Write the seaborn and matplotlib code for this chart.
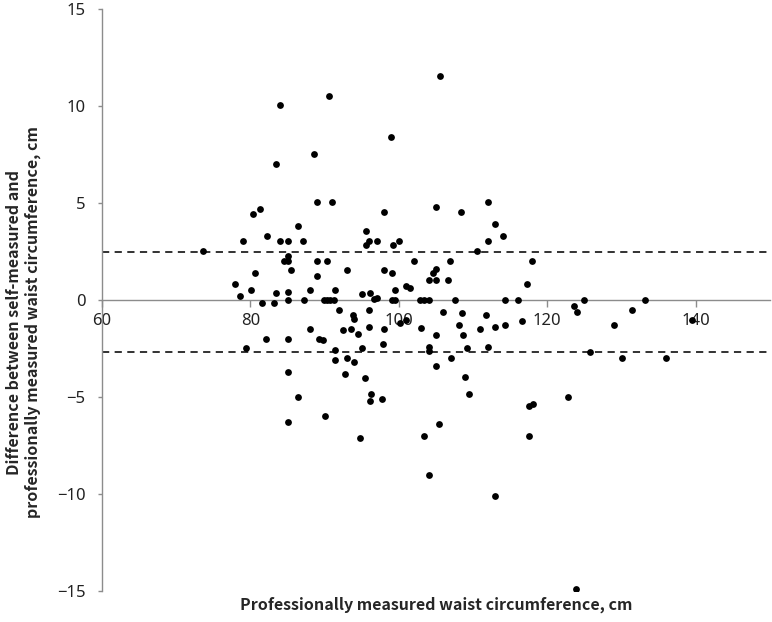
import matplotlib
matplotlib.use("Agg")
import matplotlib.pyplot as plt
import seaborn as sns
import pandas as pd

# professionally measured waist (cm) and difference self - professional (cm)
waist_upper = [73.6, 77.9, 78.6, 79.0, 80.05, 80.3, 80.6, 81.35, 82.2, 83.5,
               83.5, 84.0, 84.0, 84.5, 85.0, 85.0, 85.0, 85.1, 85.5, 86.4,
               87.1, 88.05, 88.5, 89.0, 89.0, 89.0, 90.3, 90.6, 91.0, 91.4,
               93.0, 95.0, 95.6, 95.6, 96.0, 96.1, 97.0, 98.0, 98.0, 99.0,
               99.05, 99.2, 99.5, 100.0, 101.0, 101.5, 102.0, 105.5, 105.05, 104.6,
               105.05, 104.1, 105.05, 106.6, 106.9, 108.4, 110.5, 112.0, 112.0, 113.0,
               114.0, 117.2, 118.0, 96.6, 97.05]
diff_upper = [2.53, 0.84, 0.22, 3.04, 0.52, 4.42, 1.39, 4.71, 3.30, 7.01,
              0.34, 10.04, 3.04, 2.03, 3.04, 2.27, 2.03, 0.40, 1.53, 3.80,
              3.04, 0.52, 7.51, 5.05, 2.03, 1.24, 2.03, 10.53, 5.05, 0.52,
              1.53, 0.29, 3.54, 2.82, 3.04, 0.34, 3.04, 4.55, 1.53, 8.42,
              1.39, 2.82, 0.52, 3.04, 0.72, 0.62, 2.03, 11.55, 4.81, 1.39,
              1.61, 1.01, 1.01, 1.01, 2.03, 4.54, 2.53, 5.05, 3.04, 3.93,
              3.30, 0.84, 2.03, 0.05, 0.12]

waist_zero = [85.1, 87.2, 89.9, 90.3, 90.75, 91.2, 99.07, 99.5, 102.9, 103.4,
              104.0, 107.6, 114.35, 116.06, 125.0, 133.1]
diff_zero = [0.0] * 16

waist_lower = [81.5, 83.2, 92.0, 93.8, 93.9, 96.0, 100.2, 101.0, 103.0, 105.05,
               105.9, 108.05, 108.5, 108.6, 109.2, 110.9, 111.7, 112.9, 112.0, 114.35,
               116.6, 123.6, 124.0, 125.7, 129.0, 130.0, 131.4, 136.0, 139.5,
               79.4, 82.1, 85.0, 88.05, 89.2, 89.8, 91.46, 91.46, 92.46, 93.54,
               93.0, 93.9, 92.77, 94.5, 94.97, 96.0, 95.5, 96.28, 96.14, 97.7,
               85.0, 86.43, 85.0, 90.0, 94.7, 98.03, 97.9, 104.0, 104.1, 106.97,
               105.05, 108.86, 109.4, 105.36, 103.4, 104.06, 113.0, 117.5, 118.1, 117.5,
               122.8, 123.8]
diff_lower = [-0.17, -0.17, -0.50, -0.77, -1.00, -0.50, -1.17, -1.03, -1.46, -1.80,
              -0.62, -1.31, -0.69, -1.80, -2.46, -1.51, -0.79, -1.39, -2.40, -1.29,
              -1.08, -0.30, -0.62, -2.68, -1.29, -2.97, -0.52, -2.97, -1.03,
              -2.46, -2.03, -2.03, -1.51, -2.03, -2.08, -2.56, -3.09, -1.56, -1.51,
              -2.97, -3.20, -3.80, -1.77, -2.46, -1.39, -4.00, -4.86, -5.20, -5.12,
              -3.70, -5.00, -6.29, -6.00, -7.13, -1.51, -2.28, -2.42, -2.62, -2.97,
              -3.42, -3.97, -4.83, -6.39, -6.99, -9.02, -10.10, -5.46, -5.36, -7.01,
              -5.00, -14.90]

limits = [2.5, -2.7]  # upper / lower limits of agreement

df = pd.DataFrame({
    "waist": waist_upper + waist_zero + waist_lower,
    "diff": diff_upper + diff_zero + diff_lower,
})

sns.set_theme(style="white")
plt.rcParams["font.family"] = ["Noto Sans", "DejaVu Sans"]
plt.rcParams["axes.unicode_minus"] = True
label_font = ["Noto Sans CJK KR", "DejaVu Sans"]

fig = plt.figure(figsize=(7.72, 6.22), dpi=100)
ax = fig.add_axes([0.1321, 0.0498, 0.8653, 0.9357])

sns.scatterplot(data=df, x="waist", y="diff", ax=ax, color="black",
                s=24, linewidth=0, zorder=3)

for lim in limits:
    ax.axhline(lim, color="#222222", linestyle=(0, (4, 3)), linewidth=1.3, zorder=2)

ax.set_xlim(60, 150)
ax.set_ylim(-15, 15)
ax.set_xticks([60, 80, 100, 120, 140])
ax.set_yticks([-15, -10, -5, 0, 5, 10, 15])

# x axis crossing at zero, like the original
ax.spines["bottom"].set_position(("data", 0))
ax.spines["top"].set_visible(False)
ax.spines["right"].set_visible(False)
for side in ["bottom", "left"]:
    ax.spines[side].set_color("#8c8c8c")
    ax.spines[side].set_linewidth(1.0)

ax.tick_params(axis="x", direction="out", length=5, width=1, color="#8c8c8c",
               pad=4, labelsize=12, labelcolor="#222222", bottom=True)
ax.tick_params(axis="y", direction="out", length=3, width=1, color="#8c8c8c",
               pad=9, labelsize=12, labelcolor="#222222", left=True)
ax.set_xlabel("")
ax.set_ylabel("")

fig.text(0.5648, 0.027, "Professionally measured waist circumference, cm",
         ha="center", va="center", fontsize=11.5, fontweight="bold",
         family=label_font)
fig.text(0.03, 0.482,
         "Difference between self-measured and\nprofessionally measured waist circumference, cm",
         ha="center", va="center", rotation=90, fontsize=11.5, fontweight="bold",
         linespacing=1.2, family=label_font)

plt.savefig("out.png", dpi=100)
plt.close()
